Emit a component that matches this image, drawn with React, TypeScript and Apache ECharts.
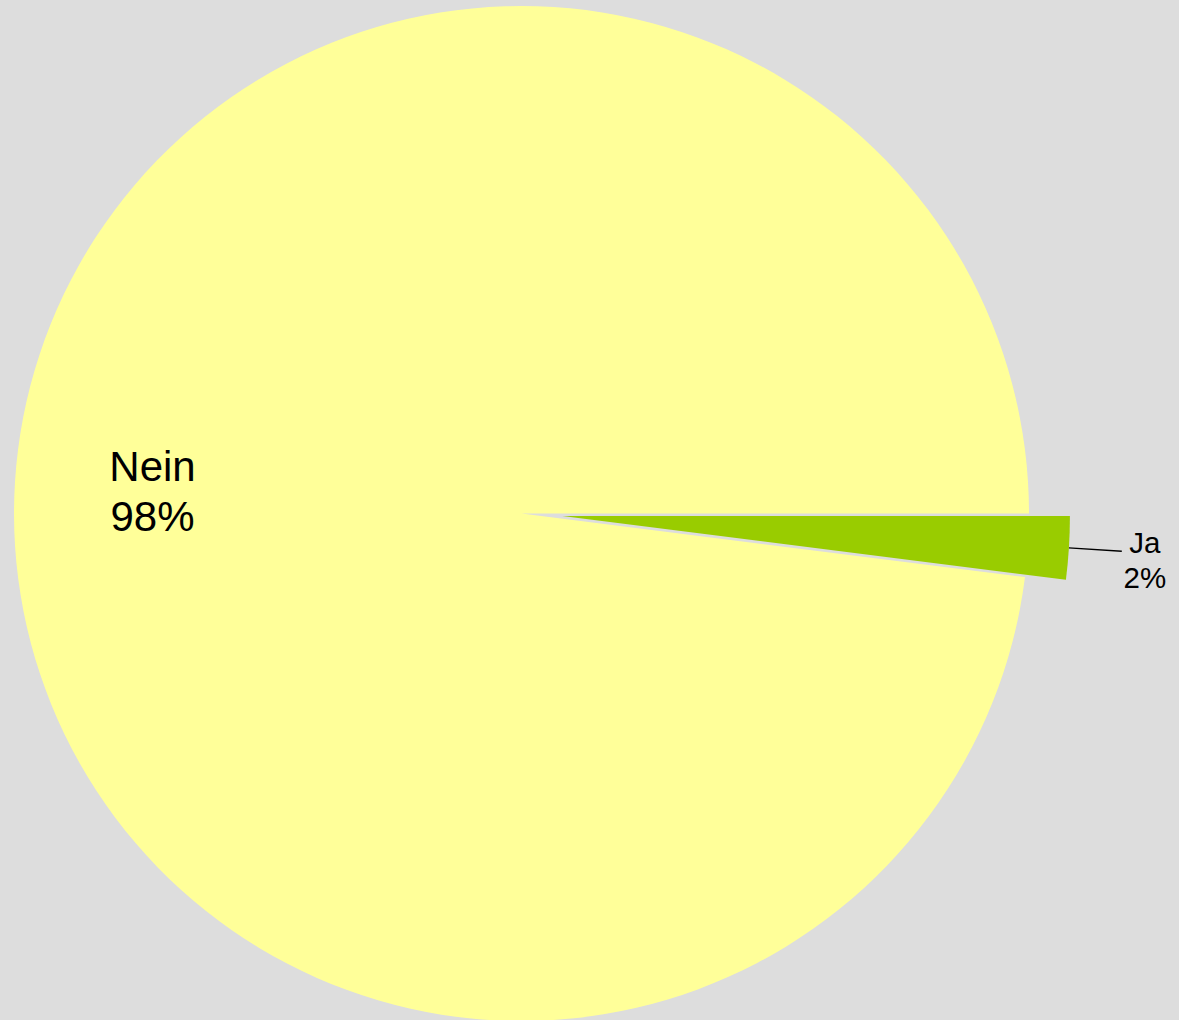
import React, { useEffect, useRef } from "react";
import * as echarts from "echarts";

const categories = ["Ja", "Nein"];
const values = [2, 98];
const colors = ["#99cc00", "#ffff99"];

const CX = 521.5;
const CY = 513.5;
const R = 507.5;

export default function App() {
  const ref = useRef<HTMLDivElement>(null);
  useEffect(() => {
    const chart = echarts.init(ref.current!, undefined, { renderer: "svg" });
    const data = categories.map((name, i) => ({
      name,
      value: values[i],
      selected: i === 0,
      itemStyle: { color: colors[i] },
      label:
        i === 0
          ? {
              position: "outside",
              formatter: "{t|{b}}\n{t|{d}%}",
              padding: [18, 0, 0, 0],
              distanceToLabelLine: 0,
              rich: {
                t: {
                  width: 46,
                  align: "center",
                  fontSize: 29.5,
                  lineHeight: 35,
                  color: "#000",
                  fontFamily: "Liberation Sans, Arial, sans-serif",
                },
              },
            }
          : {
              position: "inside",
              formatter: "{b}\n{d}%",
              fontSize: 42,
              lineHeight: 50,
            },
      labelLine: i === 0 ? { show: true, length: 53, length2: 0, lineStyle: { color: "#000", width: 1.3 } } : { show: false },
    }));
    chart.setOption({
      animation: false,
      backgroundColor: "#dddddd",
      series: [
        {
          type: "pie",
          center: [CX, CY],
          radius: R,
          startAngle: 0,
          clockwise: true,
          selectedMode: "single",
          selectedOffset: 41,
          avoidLabelOverlap: false,
          data,
          itemStyle: { borderWidth: 0 },
          emphasis: { disabled: true },
          label: {
            color: "#000",
            fontFamily: "Liberation Sans, Arial, sans-serif",
          },
          labelLayout: (params: any) => {
            if (params.dataIndex === 1) {
              const r = params.labelRect;
              const lx = r.x + r.width / 2;
              const ly = r.y + r.height / 2;
              const K = 1.44;
              return {
                x: CX + (lx - CX) * K,
                y: CY + (ly - CY) * K + 1.5,
                align: "center",
                verticalAlign: "middle",
              };
            }
            return {};
          },
        },
      ],
    });
    return () => chart.dispose();
  }, []);
  return <div ref={ref} style={{ position: "absolute", left: 0, top: 0, width: 1179, height: 1020 }} />;
}
